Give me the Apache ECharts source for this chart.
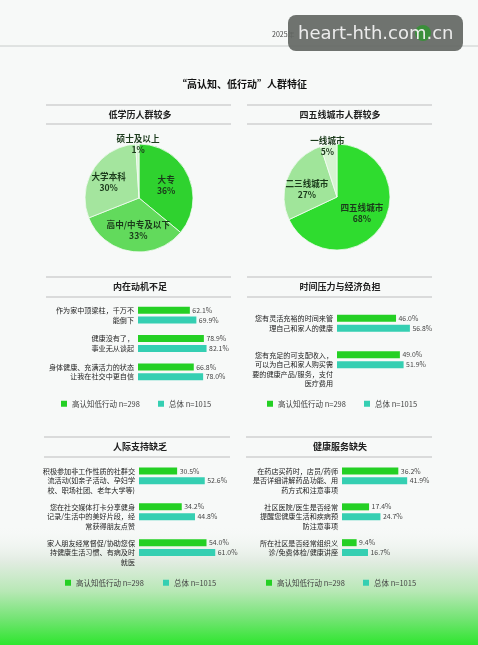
<!DOCTYPE html>
<html><head><meta charset="utf-8">
<script src="https://cdn.jsdelivr.net/npm/echarts@6/dist/echarts.min.js"></script>
<style>html,body{margin:0;padding:0;background:#f7f9f8}#c{width:478px;height:645px}</style>
</head><body><div id="c"></div>
<script>
// ---- data ----
const mainTitle = '“高认知、低行动”人群特征';
const seriesNames = ['高认知低行动 n=298', '总体 n=1015'];

const eduTitle = '低学历人群较多';
const eduNames = ['大专', '高中/中专及以下', '大学本科', '硕士及以上'];
const eduValues = [36, 33, 30, 1];

const cityTitle = '四五线城市人群较多';
const cityNames = ['四五线城市', '二三线城市', '一线城市'];
const cityValues = [68, 27, 5];

const motiveTitle = '内在动机不足';
const motiveCats = ['作为家中顶梁柱，千万不\n能倒下', '健康没有了，\n事业无从谈起', '身体健康、充满活力的状态\n让我在社交中更自信'];
const motiveGroup = [62.1, 78.9, 66.8];
const motiveTotal = [69.9, 82.1, 78.0];

const timeTitle = '时间压力与经济负担';
const timeCats = ['您有灵活充裕的时间来管\n理自己和家人的健康', '您有充足的可支配收入，\n可以为自己和家人购买需\n要的健康产品/服务，支付\n医疗费用'];
const timeGroup = [46.0, 49.0];
const timeTotal = [56.8, 51.9];

const socialTitle = '人际支持缺乏';
const socialCats = ['积极参加非工作性质的社群交\n流活动(如亲子活动、孕妇学\n校、职场社团、老年大学等)', '您在社交媒体打卡分享健身\n记录/生活中的美好片段，经\n常获得朋友点赞', '家人朋友经常督促/协助您保\n持健康生活习惯、有病及时\n就医'];
const socialGroup = [30.5, 34.2, 54.0];
const socialTotal = [52.6, 44.8, 61.0];

const serviceTitle = '健康服务缺失';
const serviceCats = ['在药店买药时，店员/药师\n是否详细讲解药品功能、用\n药方式和注意事项', '社区医院/医生是否经常\n提醒您健康生活和疾病预\n防注意事项', '所在社区是否经常组织义\n诊/免费体检/健康讲座'];
const serviceGroup = [36.2, 17.4, 9.4];
const serviceTotal = [41.9, 24.7, 16.7];

// ---- styling ----
const FONT = '"Noto Sans CJK SC", "Noto Sans", sans-serif';
const GREEN = '#24d024';
const TEAL = '#35cfb2';
const eduColors = ['#2fd22f', '#62da5c', '#a4e59e', '#d6f4d2'];
const cityColors = ['#2fdc2f', '#a0e59a', '#d6f4d2'];

const panels = [
  {title: motiveTitle, cats: motiveCats, g: motiveGroup, t: motiveTotal, grid: {left: 138, top: 301, width: 83.5, height: 85}, max: 100,
   lineX: [46, 231], lineY: [277, 297], cx: 140, legY: 405, legX: [61, 158]},
  {title: timeTitle, cats: timeCats, g: timeGroup, t: timeTotal, grid: {left: 337, top: 305, width: 77, height: 73}, max: 60,
   lineX: [247, 432], lineY: [277, 297], cx: 340, legY: 405, legX: [267, 364]},
  {title: socialTitle, cats: socialCats, g: socialGroup, t: socialTotal, grid: {left: 139, top: 458, width: 87.5, height: 107.5}, max: 70,
   lineX: [44, 230], lineY: [437, 457], cx: 140, legY: 584, legX: [65, 163]},
  {title: serviceTitle, cats: serviceCats, g: serviceGroup, t: serviceTotal, grid: {left: 342, top: 458, width: 70, height: 107.5}, max: 45,
   lineX: [246, 432], lineY: [437, 457], cx: 340, legY: 584, legX: [266, 363]}
];

const chart = echarts.init(document.getElementById('c'), null, {renderer: 'canvas'});

const graphic = [
  {type: 'rect', z: 0, silent: true, shape: {x: 0, y: 525, width: 478, height: 120},
   style: {fill: new echarts.graphic.LinearGradient(0, 0, 0, 1, [
     {offset: 0, color: 'rgba(247,249,248,0)'},
     {offset: 0.3, color: '#e2ece2'},
     {offset: 0.55, color: '#b8e8b6'},
     {offset: 0.78, color: '#74e474'},
     {offset: 1, color: '#2ee62e'}])}},
  {type: 'line', z: 1, shape: {x1: 0, y1: 46, x2: 478, y2: 46}, style: {stroke: '#c8cccb', lineWidth: 1}},
  {type: 'text', z: 1, x: 272, y: 34, style: {text: '2025年', font: '7px ' + FONT, fill: '#444', verticalAlign: 'middle'}},
  {type: 'rect', z: 20, shape: {x: 288, y: 15, width: 175, height: 36, r: 8}, style: {fill: 'rgba(100,104,100,0.93)'}},
  {type: 'circle', z: 21, shape: {cx: 423, cy: 33, r: 8}, style: {fill: '#3b8f3b'}},
  {type: 'text', z: 22, x: 298, y: 34, style: {text: 'heart-hth.com.cn', font: '18px "DejaVu Sans", sans-serif', fill: '#ececec', verticalAlign: 'middle'}},
  {type: 'text', z: 5, x: 242, y: 84, style: {text: mainTitle, font: 'bold 10px ' + FONT, fill: '#111', align: 'center', verticalAlign: 'middle'}}
];

function addPanelHeader(title, lineX, lineY, cx) {
  graphic.push({type: 'line', z: 5, shape: {x1: lineX[0], y1: lineY[0], x2: lineX[1], y2: lineY[0]}, style: {stroke: '#bdbdbd', lineWidth: 1.2}});
  graphic.push({type: 'line', z: 5, shape: {x1: lineX[0], y1: lineY[1], x2: lineX[1], y2: lineY[1]}, style: {stroke: '#bdbdbd', lineWidth: 1.2}});
  graphic.push({type: 'text', z: 5, x: cx, y: (lineY[0] + lineY[1]) / 2, style: {text: title, font: 'bold 9px ' + FONT, fill: '#222', align: 'center', verticalAlign: 'middle'}});
}
addPanelHeader(eduTitle, [46, 231], [105, 124], 140);
addPanelHeader(cityTitle, [247, 432], [105, 124], 340);
panels.forEach(p => addPanelHeader(p.title, p.lineX, p.lineY, p.cx));

const grids = [], xAxes = [], yAxes = [], series = [], legends = [];

const pieLabel = {show: true, position: 'inside', formatter: '{b}\n{c}%', color: '#1b3a1b', fontSize: 8.6, fontWeight: 'bold', fontFamily: FONT, lineHeight: 11};
series.push({type: 'pie', center: [139, 198], radius: 54, startAngle: 90, clockwise: true, silent: true,
  itemStyle: {borderColor: '#f4fbf4', borderWidth: 0.8}, label: pieLabel, labelLine: {show: false},
  labelLayout: p => (p.dataIndex === 3 ? {dy: -24} : p.dataIndex === 1 ? {dx: 4, dy: 3} : p.dataIndex === 2 ? {dx: -5} : {}),
  data: eduNames.map((n, i) => ({name: n, value: eduValues[i], itemStyle: {color: eduColors[i]}}))});
series.push({type: 'pie', center: [337, 197], radius: 53, startAngle: 90, clockwise: true, silent: true,
  itemStyle: {borderColor: '#f4fbf4', borderWidth: 0.8}, label: pieLabel, labelLine: {show: false},
  labelLayout: p => (p.dataIndex === 2 ? {dx: -5, dy: -22} : p.dataIndex === 1 ? {dx: -3, dy: 4} : {}),
  data: cityNames.map((n, i) => ({name: n, value: cityValues[i], itemStyle: {color: cityColors[i]}}))});

const valLabel = {show: true, position: 'right', distance: 2.5, fontSize: 6.9, color: '#444', fontFamily: FONT,
  formatter: p => p.value.toFixed(1) + '%'};

panels.forEach((p, i) => {
  grids.push(Object.assign({containLabel: false}, p.grid));
  xAxes.push({type: 'value', gridIndex: i, min: 0, max: p.max, show: false});
  yAxes.push({type: 'category', gridIndex: i, inverse: true, data: p.cats,
    axisLine: {show: false}, axisTick: {show: false}, splitLine: {show: false},
    axisLabel: {interval: 0, hideOverlap: false, margin: 4, fontSize: 7.1, lineHeight: 9.5, color: '#222', fontFamily: FONT,
      formatter: v => '\n'.repeat(Math.max(0, v.split('\n').length - 2)) + v}});
  series.push({type: 'bar', name: seriesNames[0], xAxisIndex: i, yAxisIndex: i, data: p.g, barWidth: 7, barGap: '40%',
    itemStyle: {color: GREEN}, label: valLabel, silent: true});
  series.push({type: 'bar', name: seriesNames[1], xAxisIndex: i, yAxisIndex: i, data: p.t, barWidth: 7, barGap: '40%',
    itemStyle: {color: TEAL}, label: valLabel, silent: true});
  seriesNames.forEach((nm, k) => {
    legends.push({data: [nm], left: p.legX[k], top: p.legY - 5, icon: 'rect', itemWidth: 6, itemHeight: 6,
      selectedMode: false, textStyle: {fontSize: 7.5, color: '#444', fontFamily: FONT}, padding: 0});
  });
});

chart.setOption({
  backgroundColor: '#f7f9f8',
  animation: false,
  textStyle: {fontFamily: FONT},
  color: [GREEN, TEAL],
  graphic: graphic,
  grid: grids, xAxis: xAxes, yAxis: yAxes, legend: legends, series: series
});
</script></body></html>
